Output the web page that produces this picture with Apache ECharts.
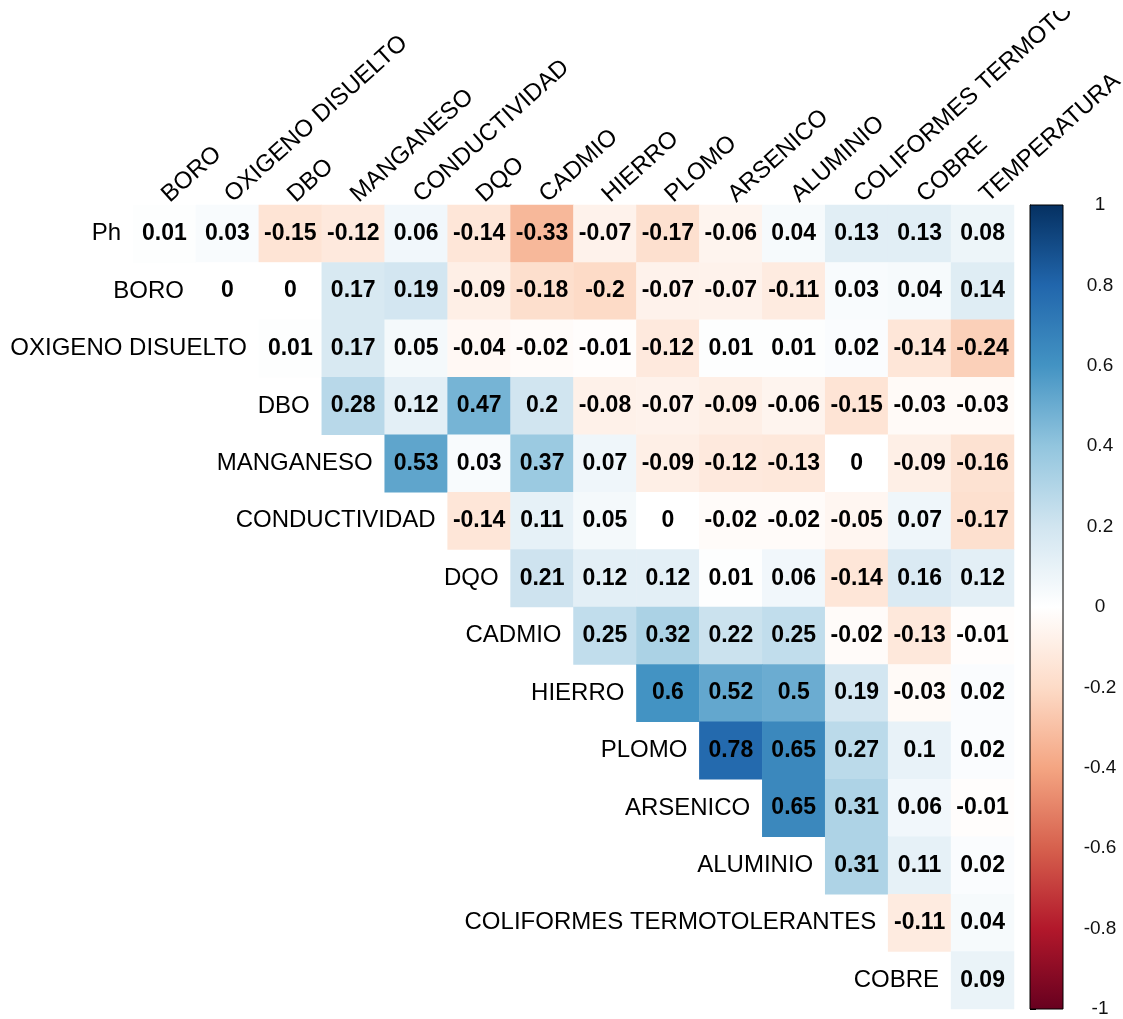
<!DOCTYPE html>
<html>
<head>
<meta charset="utf-8">
<script src="https://cdn.jsdelivr.net/npm/echarts@6/dist/echarts.min.js"></script>
<style>
html,body{margin:0;padding:0;background:#fff;}
#chart{width:1123px;height:1019px;}
</style>
</head>
<body>
<div id="chart"></div>
<script>
// ---- DATA ----
var rowLabels = ["Ph","BORO","OXIGENO DISUELTO","DBO","MANGANESO","CONDUCTIVIDAD","DQO","CADMIO","HIERRO","PLOMO","ARSENICO","ALUMINIO","COLIFORMES TERMOTOLERANTES","COBRE"];
var colLabels = ["BORO","OXIGENO DISUELTO","DBO","MANGANESO","CONDUCTIVIDAD","DQO","CADMIO","HIERRO","PLOMO","ARSENICO","ALUMINIO","COLIFORMES TERMOTOLERANTES","COBRE","TEMPERATURA"];
// each row starts at the diagonal column (row index)
var rPh        = [0.01, 0.03, -0.15, -0.12, 0.06, -0.14, -0.33, -0.07, -0.17, -0.06, 0.04, 0.13, 0.13, 0.08];
var rBoro      = [0, 0, 0.17, 0.19, -0.09, -0.18, -0.2, -0.07, -0.07, -0.11, 0.03, 0.04, 0.14];
var rOxigeno   = [0.01, 0.17, 0.05, -0.04, -0.02, -0.01, -0.12, 0.01, 0.01, 0.02, -0.14, -0.24];
var rDbo       = [0.28, 0.12, 0.47, 0.2, -0.08, -0.07, -0.09, -0.06, -0.15, -0.03, -0.03];
var rManganeso = [0.53, 0.03, 0.37, 0.07, -0.09, -0.12, -0.13, 0, -0.09, -0.16];
var rConduct   = [-0.14, 0.11, 0.05, 0, -0.02, -0.02, -0.05, 0.07, -0.17];
var rDqo       = [0.21, 0.12, 0.12, 0.01, 0.06, -0.14, 0.16, 0.12];
var rCadmio    = [0.25, 0.32, 0.22, 0.25, -0.02, -0.13, -0.01];
var rHierro    = [0.6, 0.52, 0.5, 0.19, -0.03, 0.02];
var rPlomo     = [0.78, 0.65, 0.27, 0.1, 0.02];
var rArsenico  = [0.65, 0.31, 0.06, -0.01];
var rAluminio  = [0.31, 0.11, 0.02];
var rColiformes= [-0.11, 0.04];
var rCobre     = [0.09];
var colorbarTicks = [-1, -0.8, -0.6, -0.4, -0.2, 0, 0.2, 0.4, 0.6, 0.8, 1];

var rows = [rPh, rBoro, rOxigeno, rDbo, rManganeso, rConduct, rDqo, rCadmio, rHierro, rPlomo, rArsenico, rAluminio, rColiformes, rCobre];
var RdBu = ["#67001F","#B2182B","#D6604D","#F4A582","#FDDBC7","#FFFFFF","#D1E5F0","#92C5DE","#4393C3","#2166AC","#053061"];
var FONT = "'Liberation Sans', Arial, sans-serif";

var heatData = [];
rows.forEach(function (arr, i) {
  arr.forEach(function (v, k) { heatData.push([i + k, i, v]); });
});

var chart = echarts.init(document.getElementById('chart'), null, {renderer: 'canvas'});
var option = {
  backgroundColor: '#fff',
  animation: false,
  grid: [
    {left: 133, right: 109, top: 205, bottom: 10},
    {left: 1030, right: 60, top: 205, bottom: 10}
  ],
  xAxis: [
    {type: 'category', data: colLabels, show: false, gridIndex: 0},
    {type: 'value', min: 0, max: 1, show: false, gridIndex: 1}
  ],
  yAxis: [
    {type: 'category', data: rowLabels, inverse: true, show: false, gridIndex: 0},
    {type: 'value', gridIndex: 1, position: 'right',
     min: colorbarTicks[0], max: colorbarTicks[colorbarTicks.length - 1],
     interval: colorbarTicks[1] - colorbarTicks[0],
     splitLine: {show: false},
     axisLine: {show: true, lineStyle: {color: '#000', width: 1}},
     axisTick: {show: true, length: 6, lineStyle: {color: '#000', width: 1}},
     axisLabel: {show: true, margin: 37, align: 'center', fontSize: 19, color: '#111', fontFamily: FONT,
       formatter: function (v) { return String(Math.round(v * 10) / 10); }}
    }
  ],
  visualMap: {
    show: false, min: -1, max: 1, dimension: 2, seriesIndex: 0,
    inRange: {color: RdBu}
  },
  graphic: [
    {type: 'rect', left: 0, top: 0, z: 100, shape: {width: 1123, height: 11}, style: {fill: '#fff'}, silent: true}
  ],
  series: [
    {
      type: 'heatmap', xAxisIndex: 0, yAxisIndex: 0,
      data: heatData,
      label: {show: true, fontSize: 23, fontWeight: 'bold', color: '#000', fontFamily: FONT,
        formatter: function (p) { return String(p.value[2]); }},
      itemStyle: {borderWidth: 0}
    },
    {
      // row labels next to the diagonal
      type: 'custom', xAxisIndex: 0, yAxisIndex: 0, silent: true,
      data: rowLabels.map(function (r, i) { return [i, i]; }),
      renderItem: function (params, api) {
        var p = api.coord([api.value(0), api.value(1)]);
        var w = api.size([1, 0])[0];
        return {type: 'text', x: p[0] - w / 2 - 12, y: p[1],
          style: {text: rowLabels[params.dataIndex], align: 'right', verticalAlign: 'middle',
            fontSize: 24, fontFamily: FONT, fill: '#000'}};
      }
    },
    {
      // rotated column labels above the top row
      type: 'custom', xAxisIndex: 0, yAxisIndex: 0, silent: true,
      data: colLabels.map(function (c, j) { return [j, 0]; }),
      renderItem: function (params, api) {
        var p = api.coord([api.value(0), api.value(1)]);
        var h = api.size([0, 1])[1];
        return {type: 'text', x: p[0] + 9, y: p[1] - h / 2 + 2, rotation: Math.PI * 42 / 180,
          style: {text: colLabels[params.dataIndex], align: 'left', verticalAlign: 'bottom',
            fontSize: 24, fontFamily: FONT, fill: '#000'}};
      }
    },
    {
      // colour bar
      type: 'custom', xAxisIndex: 1, yAxisIndex: 1, silent: true,
      data: [[0, colorbarTicks[0], 1, colorbarTicks[colorbarTicks.length - 1]]],
      renderItem: function (params, api) {
        var p0 = api.coord([api.value(0), api.value(3)]);
        var p1 = api.coord([api.value(2), api.value(1)]);
        var stops = RdBu.slice().reverse().map(function (c, k) { return {offset: k / (RdBu.length - 1), color: c}; });
        return {type: 'rect',
          shape: {x: p0[0], y: p0[1], width: p1[0] - p0[0], height: p1[1] - p0[1]},
          style: {fill: new echarts.graphic.LinearGradient(0, 0, 0, 1, stops), stroke: '#000', lineWidth: 1}};
      }
    }
  ]
};
chart.setOption(option);
</script>
</body>
</html>
